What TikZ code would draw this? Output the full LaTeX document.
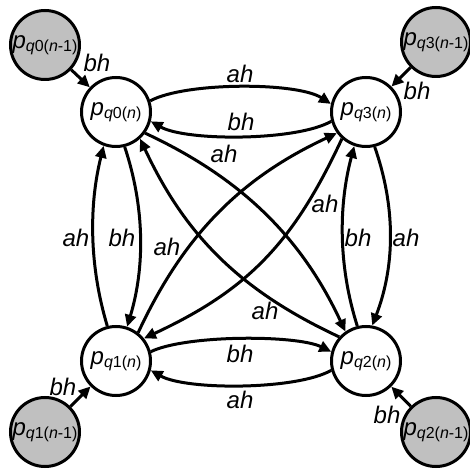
\documentclass[tikz,border=0pt]{standalone}
\usepackage{fontspec}
\setmainfont{Liberation Sans}
\usetikzlibrary{arrows.meta}
\definecolor{nodegray}{RGB}{192,192,192}
\newcommand\plab[2]{\textit{p}\raisebox{-3pt}{\fontsize{16}{16}\selectfont\textit{q}#1(\textit{n}#2)}}
\begin{document}
\begin{tikzpicture}[x=1pt,y=1pt,
  mainnode/.style={circle,draw=black,line width=3pt,fill=white,minimum size=69pt,inner sep=0pt,font=\fontsize{24}{24}\selectfont},
  prevnode/.style={mainnode,fill=nodegray},
  conn/.style={line width=3pt,-{Triangle[length=12pt,width=11pt]}},
  lbl/.style={anchor=base,inner sep=0pt,font=\fontsize{24}{24}\selectfont\itshape}]
\clip (0,0) rectangle (470,468);
% main nodes
\node[mainnode] (q0) at (116,356) {\plab{0}{}};
\node[mainnode] (q3) at (366,356) {\plab{3}{}};
\node[mainnode] (q1) at (116,107) {\plab{1}{}};
\node[mainnode] (q2) at (366,107) {\plab{2}{}};
% previous-step nodes
\node[prevnode] (g0) at (45,423) {\plab{0}{-1}};
\node[prevnode] (g3) at (436,426) {\plab{3}{-1}};
\node[prevnode] (g1) at (45,36) {\plab{1}{-1}};
\node[prevnode] (g2) at (436,36) {\plab{2}{-1}};
% incoming from previous step
\draw[conn] (g0) -- (q0);
\draw[conn] (g3) -- (q3);
\draw[conn] (g1) -- (q1);
\draw[conn] (g2) -- (q2);
% top pair
\draw[conn] (q0.18) .. controls +(35,19) and +(-34,22) .. (q3.167);
\draw[conn] (q3.195) .. controls +(-35,-20) and +(35,-20) .. (q0.-15);
% bottom pair
\draw[conn] (q1.15) .. controls +(35,17) and +(-35,17) .. (q2.165);
\draw[conn] (q2.195) .. controls +(-35,-20) and +(35,-20) .. (q1.-15);
% left pair
\draw[conn] (q1.104) .. controls +(-18,60) and +(-15,-60) .. (q0.250);
\draw[conn] (q0.284) .. controls +(20,-60) and +(18,60) .. (q1.72);
% right pair
\draw[conn] (q2.104) .. controls +(-19,60) and +(-16,-60) .. (q3.251);
\draw[conn] (q3.284) .. controls +(21,-60) and +(23,60) .. (q2.80);
% diagonals
\draw[conn] (q0.-36) .. controls +(-25:105) and +(115:105) .. (q2.125);
\draw[conn] (q2.138) .. controls +(155:108) and +(-65:108) .. (q0.-48);
\draw[conn] (q1.52) .. controls +(65:107) and +(205:107) .. (q3.216);
\draw[conn] (q3.228) .. controls +(245:115) and +(25:115) .. (q1.39);
% labels
\node[lbl] (l1) at (240,385) {ah};
\node[lbl] (l2) at (241,337) {bh};
\node[lbl] (l3) at (240,106) {bh};
\node[lbl] (l4) at (240,60) {ah};
\node[lbl] (l5) at (76,221) {ah};
\node[lbl] (l6) at (122,221) {bh};
\node[lbl] (l7) at (358,221) {bh};
\node[lbl] (l8) at (406,221) {ah};
\node[lbl] (l9) at (224,305) {ah};
\node[lbl] (l10) at (325,255) {ah};
\node[lbl] (l11) at (167,212) {ah};
\node[lbl] (l12) at (265,148) {ah};
\node[lbl] (m0) at (97,396) {bh};
\node[lbl] (m3) at (417,368) {bh};
\node[lbl] (m1) at (63,73) {bh};
\node[lbl] (m2) at (387,45) {bh};
\end{tikzpicture}
\end{document}
